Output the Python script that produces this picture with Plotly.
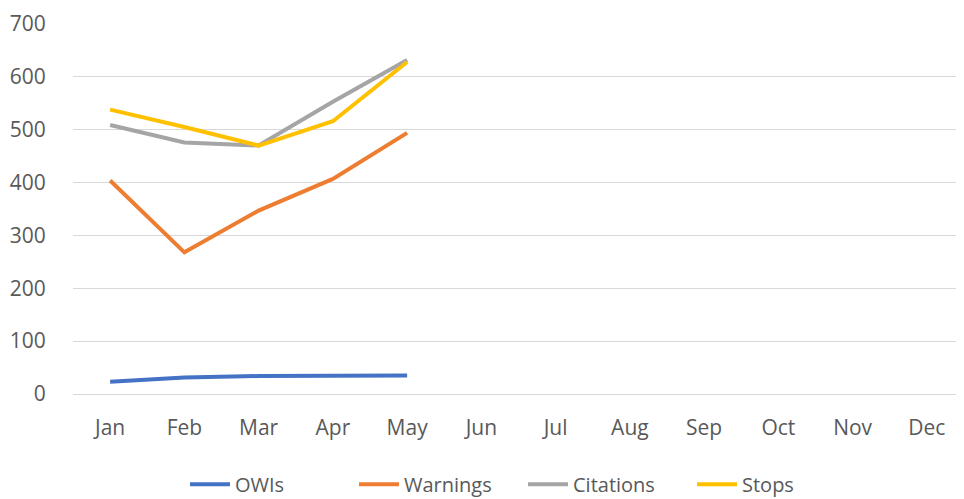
import plotly.graph_objects as go

months = ["Jan", "Feb", "Mar", "Apr", "May", "Jun", "Jul", "Aug", "Sep", "Oct", "Nov", "Dec"]
data_months = ["Jan", "Feb", "Mar", "Apr", "May"]
owis = [23, 31, 34, 34, 35]
warnings = [404, 268, 347, 407, 494]
citations = [509, 476, 470, 553, 632]
stops = [538, 505, 470, 516, 628]

series = [
    ("OWIs", owis, "#4472C4"),
    ("Warnings", warnings, "#ED7D31"),
    ("Citations", citations, "#A5A5A5"),
    ("Stops", stops, "#FFC000"),
]

fig = go.Figure()
for name, vals, color in series:
    fig.add_trace(go.Scatter(x=data_months, y=vals, name=name, mode="lines",
                             line=dict(color=color, width=4)))

font_family = "Open Sans, sans-serif"
fig.update_layout(
    width=956, height=491,
    margin=dict(l=65, r=0, t=16, b=105),
    paper_bgcolor="white", plot_bgcolor="white",
    font=dict(family=font_family, size=18, color="#595959"),
    showlegend=True,
    legend=dict(orientation="h", x=0.1257, xanchor="left", xref="paper",
                y=0.03, yanchor="middle", yref="container",
                entrywidth=114, entrywidthmode="pixels",
                font=dict(size=20, color="#595959"), itemwidth=40, traceorder="normal"),
    xaxis=dict(type="category", categoryorder="array", categoryarray=months,
               range=[-0.5, 11.5], showgrid=False, showline=True, linecolor="#d9d9d9",
               linewidth=1, ticks="outside", ticklen=15, tickcolor="rgba(0,0,0,0)",
               tickfont=dict(size=21, color="#595959"), zeroline=False, automargin=False),
    yaxis=dict(range=[0, 700], dtick=100, showgrid=True, gridcolor="#d9d9d9", gridwidth=1,
               zeroline=False, showline=False, ticks="outside", ticklen=22,
               tickcolor="rgba(0,0,0,0)", tickfont=dict(size=21, color="#595959"),
               automargin=False),
)

fig.write_html("out.html")
